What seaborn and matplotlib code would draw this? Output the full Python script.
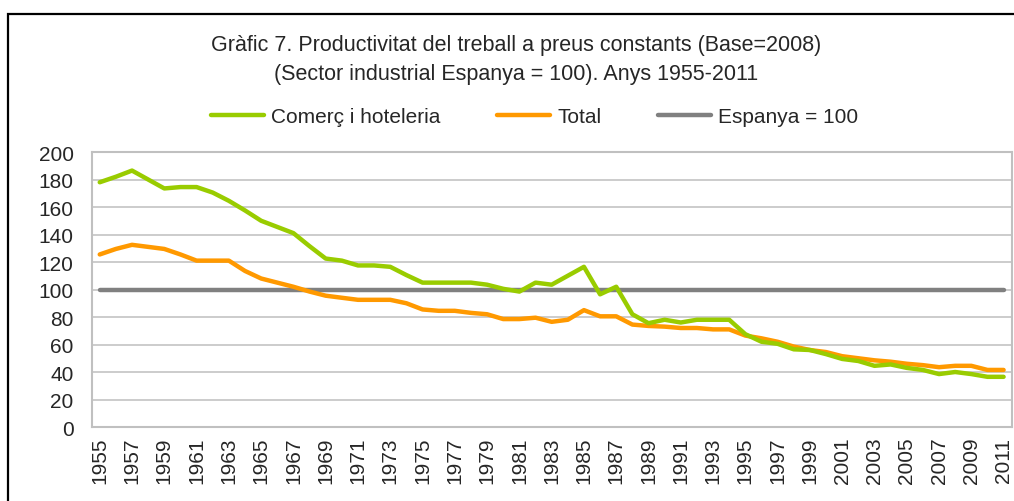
import matplotlib
matplotlib.use('Agg')
import matplotlib.pyplot as plt
import seaborn as sns
import pandas as pd
import numpy as np
from matplotlib.lines import Line2D
from matplotlib.patches import Rectangle

years = list(range(1955, 2012))
comerc = [178, 182, 186.5, 180, 173.5, 174.5, 174.5, 170.5, 164.5, 157.5,
          150, 145.5, 141, 131.5, 122.5, 121, 117.5, 117.5, 116.5, 110.5,
          105, 105, 105, 105, 103.5, 100.5, 98.5, 105, 103.5, 110,
          116.5, 96.5, 102, 82, 75.5, 78, 76, 78, 78, 78,
          67.5, 62, 60.5, 56.5, 56, 53, 49.5, 48, 44.5, 45.5,
          43, 41.5, 38.5, 40, 38.5, 36.5, 36.5]
total = [125.5, 129.5, 132.5, 131, 129.5, 125.5, 121, 121, 121, 113.5,
         108, 105, 102, 98.5, 95.5, 94, 92.5, 92.5, 92.5, 90,
         85.5, 84.5, 84.5, 83, 82, 78.5, 78.5, 79.5, 76.5, 78,
         85, 80.5, 80.5, 74.5, 73.5, 73, 72, 72, 71, 71,
         66.5, 64.5, 62, 58.5, 56, 54.5, 51.5, 50, 48.5, 47.5,
         46, 45, 43.5, 44.5, 44.5, 41.5, 41.5]
espanya = [100] * len(years)

series = ['Comerç i hoteleria', 'Total', 'Espanya = 100']
colors = {'Comerç i hoteleria': '#99CC00', 'Total': '#FF9900', 'Espanya = 100': '#808080'}

df = pd.DataFrame({
    'pos': list(range(len(years))) * 3,
    'value': comerc + total + espanya,
    'serie': [series[0]] * len(years) + [series[1]] * len(years) + [series[2]] * len(years),
})

sns.set_style('white')
plt.rcParams['font.family'] = ['Liberation Sans', 'DejaVu Sans']

fig = plt.figure(figsize=(10.14, 5.02), dpi=100)
ax = fig.add_axes([0.0904, 0.1474, 0.9073, 0.5478])

# gray reference first so the coloured lines sit on top
sns.lineplot(data=df, x='pos', y='value', hue='serie', hue_order=series[::-1],
             palette=colors, linewidth=3.2, ax=ax, legend=False)

ax.set_xlim(-0.5, len(years) - 0.5)
ax.set_ylim(0, 200)
ax.set_yticks(np.arange(0, 201, 20))
ax.yaxis.grid(True, color='#C8C8C8', linewidth=1.3)
ax.set_xticks(range(0, len(years), 2))
ax.set_xticklabels([str(y) for y in years[::2]], rotation=90)
ax.set_xticks(np.arange(-0.5, len(years), 1), minor=True)
ax.tick_params(axis='x', which='major', length=0, pad=7, labelsize=15)
ax.tick_params(axis='x', which='minor', length=5, color='#BFBFBF', width=1.3)
ax.tick_params(axis='y', length=6, color='#BFBFBF', width=1.3, labelsize=15, pad=7)
ax.set_xlabel('')
ax.set_ylabel('')
for s in ax.spines.values():
    s.set_color('#C0C0C0')
    s.set_linewidth(1.5)

fig.text(0.509, 0.91, 'Gràfic 7. Productivitat del treball a preus constants (Base=2008)',
         ha='center', va='center', fontsize=15.5)
fig.text(0.509, 0.851, '(Sector industrial Espanya = 100). Anys 1955-2011',
         ha='center', va='center', fontsize=15.5)

handles = [Line2D([0], [0], color=colors[s], linewidth=3.2) for s in series]
fig.legend(handles, series, loc='center', bbox_to_anchor=(0.527, 0.765), ncol=3,
           frameon=False, fontsize=15, handlelength=2.55, columnspacing=2.7,
           handletextpad=0.35)

fig.add_artist(Rectangle((0.008, -0.05), 1.1, 1.02, transform=fig.transFigure,
                         fill=False, edgecolor='black', linewidth=1.6))

fig.savefig('out.png', dpi=100)
